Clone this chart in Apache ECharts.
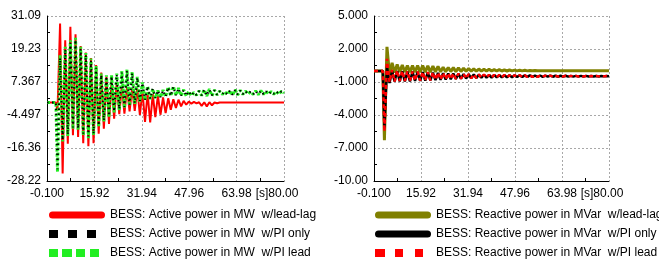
<!DOCTYPE html>
<html>
<head>
<meta charset="utf-8">
<script src="https://cdn.jsdelivr.net/npm/echarts@6/dist/echarts.min.js"></script>
<style>
  html, body { margin: 0; padding: 0; background: #fff; }
  #chart { width: 659px; height: 266px; }
</style>
</head>
<body>
<div id="chart"></div>
<script>
// time axis [s], shared by both plots (one point per half swing)
const timeS = [
  -0.1, 2.9,
  3.45, 4.32, 5.19, 6.06, 6.93, 7.80, 8.67, 9.54, 10.41, 11.28,
  12.15, 13.02, 13.89, 14.76, 15.63, 16.50, 17.37, 18.24, 19.11, 19.98,
  20.85, 21.72, 22.59, 23.46, 24.33, 25.20, 26.07, 26.94, 27.81, 28.68,
  29.55, 30.42, 31.29, 32.16, 33.03, 33.90, 34.77, 35.64, 36.51, 37.38,
  38.25, 39.12, 39.99, 40.86, 41.73, 42.60, 43.47, 44.34, 45.21, 46.08,
  46.95, 47.82, 48.69, 49.56, 50.43, 51.30, 52.17, 53.04, 53.91, 54.78,
  55.65, 56.52, 57.39, 58.26, 59.13, 60.00, 60.87, 61.74, 62.61, 63.48,
  64.35, 65.22, 66.09, 66.96, 67.83, 68.70, 69.57, 70.44, 71.31, 72.18,
  73.05, 73.92, 74.79, 75.66, 76.53, 77.40, 78.27, 79.14, 80.00
]

// active power [MW]
const pLeadLag = [
  0, 0,
  -3, 28.4, -25.5, 22.4, -14.8, 27.2, -11.8, 24.5, -12.4, 20.3,
  -14.6, 18, -15.7, 16, -14.6, 13.5, -11.2, 10.8, -9.4, 9.2,
  -7.7, 8, -5.8, 7, -4.2, 6, -4, 5.5, -3.2, 5.2,
  -3, 5, -4.5, 4.2, -7, 3.5, -7.2, 3, -5.3, 2.5,
  -4.4, 1.8, -3.8, 1.5, -2.6, 1.2, -2, 1, -1.4, 0.6,
  -0.8, 0.3, -0.4, 0.2, -0.3, 0.1, -1.2, 0.1, -1.4, 0.1,
  -1, 0, -0.3, 0, 0, 0, 0, 0, 0, 0,
  0, 0, 0, 0, 0, 0, 0, 0, 0, 0,
  0, 0, 0, 0, 0, 0, 0, 0, 0
]
const pPiOnly = [
  0, 0,
  -24, 16, -13.5, 19, -11.5, 21.5, -9, 22.5, -9.3, 19.2,
  -11.2, 17, -12.2, 15, -11.2, 12.5, -8.3, 9.9, -6.4, 9.4,
  -4.8, 9.4, -3.2, 10, -2.4, 10.8, -1.6, 11.3, -0.8, 10.5,
  -0.2, 8.9, 0.6, 7, 1, 5.8, 1.4, 4.9, 1.7, 4.3,
  1.9, 4.3, 2.1, 5.4, 2.4, 5.6, 2.6, 5.1, 2.5, 4.5,
  2.4, 4, 2.5, 3.7, 2.7, 4.1, 2.6, 4.5, 2.5, 4.6,
  2.6, 4.4, 2.8, 4.1, 3, 3.9, 2.9, 4.2, 2.8, 4.4,
  2.9, 4.3, 3, 4.1, 3.1, 3.9, 3, 4.1, 3, 4.2,
  3, 4, 3.1, 3.9, 3.1, 4, 3.1, 4, 3.5
]
const pPiLead = [
  0, 0,
  -25, 17, -14, 20, -12, 22.4, -9.5, 23.3, -9.8, 20,
  -11.8, 17.8, -12.8, 15.8, -11.8, 13.1, -8.8, 10.4, -6.8, 9.8,
  -5.2, 9.8, -3.6, 10.4, -2.8, 11.3, -2, 11.8, -1.2, 11,
  -0.5, 9.2, 0.3, 7.2, 0.8, 5.9, 1.2, 4.9, 1.5, 4.3,
  1.8, 4.5, 2, 5.6, 2.3, 5.8, 2.5, 5.2, 2.4, 4.6,
  2.3, 4, 2.4, 3.6, 2.6, 4.2, 2.5, 4.6, 2.3, 4.8,
  2.4, 4.5, 2.7, 4.1, 2.9, 3.9, 2.8, 4.3, 2.6, 4.6,
  2.7, 4.4, 2.9, 4.1, 3, 3.9, 2.9, 4.2, 2.8, 4.3,
  2.9, 4.1, 3, 3.9, 3, 4, 2.9, 4.1, 3.4
]

// reactive power [MVar]
const qLeadLag = [
  0, 0,
  -6.3, 2.2, -0.35, 0.75, -0.15, 0.6, -0.1, 0.55, -0.1, 0.5,
  -0.1, 0.5, -0.1, 0.5, -0.1, 0.5, -0.1, 0.48, -0.1, 0.45,
  -0.08, 0.42, -0.08, 0.35, -0.06, 0.32, -0.05, 0.3, -0.05, 0.28,
  -0.04, 0.25, -0.03, 0.22, -0.02, 0.2, -0.02, 0.18, -0.01, 0.16,
  0, 0.15, 0, 0.13, 0, 0.12, 0, 0.1, 0, 0.09,
  0.01, 0.08, 0.01, 0.07, 0.01, 0.06, 0.01, 0.05, 0.02, 0.04,
  0.02, 0.03, 0.02, 0.03, 0.02, 0.03, 0.02, 0.03, 0.02, 0.03,
  0.02, 0.03, 0.02, 0.03, 0.02, 0.03, 0.02, 0.03, 0.02, 0.03,
  0.02, 0.03, 0.02, 0.03, 0.02, 0.03, 0.02, 0.03, 0.02
]
const qPiOnly = [
  0, 0,
  -5.2, 0.4, -1.1, 0, -0.95, 0, -0.95, -0.02, -0.95, -0.05,
  -0.95, -0.05, -0.9, -0.08, -0.9, -0.1, -0.88, -0.12, -0.85, -0.15,
  -0.82, -0.18, -0.8, -0.2, -0.78, -0.22, -0.75, -0.24, -0.72, -0.26,
  -0.7, -0.28, -0.68, -0.3, -0.66, -0.32, -0.64, -0.33, -0.62, -0.34,
  -0.6, -0.35, -0.6, -0.36, -0.58, -0.37, -0.58, -0.38, -0.57, -0.38,
  -0.56, -0.39, -0.55, -0.39, -0.55, -0.4, -0.54, -0.4, -0.54, -0.41,
  -0.53, -0.41, -0.53, -0.42, -0.52, -0.42, -0.52, -0.43, -0.52, -0.43,
  -0.51, -0.43, -0.51, -0.44, -0.51, -0.44, -0.5, -0.44, -0.5, -0.44,
  -0.5, -0.45, -0.5, -0.45, -0.5, -0.45, -0.49, -0.45, -0.47
]
const qPiLead = [
  0, 0,
  -5.5, 1.1, -1, 0.1, -0.95, 0.05, -0.9, 0, -0.9, -0.02,
  -0.9, -0.05, -0.88, -0.06, -0.88, -0.08, -0.85, -0.1, -0.85, -0.12,
  -0.8, -0.15, -0.78, -0.18, -0.76, -0.2, -0.74, -0.22, -0.72, -0.24,
  -0.7, -0.26, -0.68, -0.28, -0.66, -0.3, -0.64, -0.32, -0.62, -0.33,
  -0.6, -0.34, -0.59, -0.35, -0.58, -0.36, -0.57, -0.37, -0.56, -0.38,
  -0.56, -0.38, -0.55, -0.39, -0.55, -0.39, -0.54, -0.4, -0.53, -0.4,
  -0.53, -0.41, -0.52, -0.41, -0.52, -0.42, -0.52, -0.42, -0.51, -0.43,
  -0.51, -0.43, -0.5, -0.44, -0.5, -0.44, -0.5, -0.44, -0.5, -0.45,
  -0.5, -0.45, -0.49, -0.45, -0.49, -0.45, -0.49, -0.45, -0.47
]

// tick labels
const xTicks = [-0.1, 15.92, 31.94, 47.96, 63.98, 80]
const xLabels = ['-0.100', '15.92', '31.94', '47.96', '63.98', '80.00']
const pTicks = [-28.2238, -16.3603, -4.4968, 7.3667, 19.2302, 31.0937]
const pLabels = ['-28.22', '-16.36', '-4.497', '7.367', '19.23', '31.09']
const qTicks = [-10, -7, -4, -1, 2, 5]
const qLabels = ['-10.00', '-7.000', '-4.000', '-1.000', '2.000', '5.000']

const names = {
  pLeadLag: 'BESS: Active power in MW  w/lead-lag',
  pPiOnly: 'BESS: Active power in MW  w/PI only',
  pPiLead: 'BESS: Active power in MW  w/PI lead',
  qLeadLag: 'BESS: Reactive power in MVar  w/lead-lag',
  qPiOnly: 'BESS: Reactive power in MVar  w/PI only',
  qPiLead: 'BESS: Reactive power in MVar  w/PI lead',
}

function pairs(vals) {
  return timeS.map((t, i) => [t, vals[i]])
}

function nearestLabel(v, ticks, labels) {
  let best = 0
  ticks.forEach((t, i) => {
    if (Math.abs(t - v) < Math.abs(ticks[best] - v)) best = i
  })
  return labels[best]
}

// legend icons
const capsule = 'path://M3.5,0H52.5A3.5,3.5 0 0 1 52.5,7H3.5A3.5,3.5 0 0 1 3.5,0Z'
const threeSquares = 'path://M0,0H9V8H0Z M19,0H28V8H19Z M38,0H47V8H38Z M55.9,7.9H56V8H55.9Z'
const fourSquares = 'path://M0,0H9V8H0Z M13,0H23V8H13Z M27,0H36V8H27Z M41,0H50V8H41Z M55.9,7.9H56V8H55.9Z'
const redSquares = 'path://M0,0H10V8H0Z M20,0H28V8H20Z M40,0H48V8H40Z M55.9,7.9H56V8H55.9Z'

const gridLine = { color: '#a8a8a8', type: [2, 2], width: 1 }

function xAxisFor(gi) {
  return {
    type: 'value',
    gridIndex: gi,
    min: -0.1,
    max: 80,
    interval: 16.02,
    axisLine: { show: true, onZero: false, lineStyle: { color: '#000', width: 1 } },
    axisTick: { show: false, inside: true },
    minorTick: { show: true, splitNumber: 2, length: 3, lineStyle: { color: '#000' } },
    splitLine: { show: true, lineStyle: gridLine },
    axisLabel: {
      color: '#000',
      fontSize: 12,
      margin: 7,
      showMinLabel: true,
      showMaxLabel: true,
      formatter: function (v) {
        const s = nearestLabel(v, xTicks, xLabels)
        // the unit sits just before the last label
        if (s === '80.00') return '{u|[s]}' + s + '{p| }'
        return s
      },
      rich: { u: { fontSize: 12, color: '#000' }, p: { width: 14 } },
    },
  }
}

function yAxisFor(gi, min, max, interval, ticks, labels) {
  return {
    type: 'value',
    gridIndex: gi,
    min: min,
    max: max,
    interval: interval,
    axisLine: { show: true, onZero: false, lineStyle: { color: '#000', width: 1 } },
    axisTick: { show: false, inside: true },
    minorTick: { show: true, splitNumber: 2, length: 3, lineStyle: { color: '#000' } },
    splitLine: { show: true, lineStyle: gridLine },
    axisLabel: {
      color: '#000',
      fontSize: 12,
      margin: 6,
      showMinLabel: true,
      showMaxLabel: true,
      formatter: (v) => nearestLabel(v, ticks, labels),
    },
  }
}

function lineSeries(name, vals, gi, color, width, dash, z) {
  return {
    name: name,
    type: 'line',
    xAxisIndex: gi,
    yAxisIndex: gi,
    data: pairs(vals),
    showSymbol: false,
    symbol: 'none',
    z: z,
    itemStyle: { color: color },
    lineStyle: { color: color, width: width, type: dash, cap: 'butt' },
  }
}

const legendText = { color: '#000', fontSize: 12 }

let mycharts = echarts.init(document.getElementById('chart'))
mycharts.setOption({
  animation: false,
  textStyle: { fontFamily: 'Liberation Sans, Arial, sans-serif' },
  grid: [
    { left: 47, right: 375, top: 16, bottom: 85 },
    { left: 374, right: 50, top: 16, bottom: 85 },
  ],
  xAxis: [xAxisFor(0), xAxisFor(1)],
  yAxis: [
    yAxisFor(0, pTicks[0], pTicks[5], pTicks[1] - pTicks[0], pTicks, pLabels),
    yAxisFor(1, -10, 5, 3, qTicks, qLabels),
  ],
  legend: [
    {
      orient: 'vertical',
      left: 44,
      top: 204,
      itemWidth: 56,
      itemHeight: 9,
      itemGap: 7,
      textStyle: legendText,
      data: [
        { name: names.pLeadLag, icon: capsule },
        { name: names.pPiOnly, icon: threeSquares },
        { name: names.pPiLead, icon: fourSquares },
      ],
    },
    {
      orient: 'vertical',
      left: 370,
      top: 204,
      itemWidth: 56,
      itemHeight: 9,
      itemGap: 7,
      textStyle: legendText,
      data: [
        { name: names.qLeadLag, icon: capsule },
        { name: names.qPiOnly, icon: capsule },
        { name: names.qPiLead, icon: redSquares },
      ],
    },
  ],
  series: [
    lineSeries(names.pLeadLag, pLeadLag, 0, '#ff0000', 2, 'solid', 2),
    lineSeries(names.pPiLead, pPiLead, 0, '#22ee22', 3, [3, 2], 3),
    lineSeries(names.pPiOnly, pPiOnly, 0, '#000000', 2, [1.5, 3.5], 4),
    lineSeries(names.qLeadLag, qLeadLag, 1, '#808000', 3, 'solid', 2),
    lineSeries(names.qPiOnly, qPiOnly, 1, '#000000', 2.5, 'solid', 3),
    lineSeries(names.qPiLead, qPiLead, 1, '#ff0000', 2.5, [4, 3], 4),
  ],
})
</script>
</body>
</html>
